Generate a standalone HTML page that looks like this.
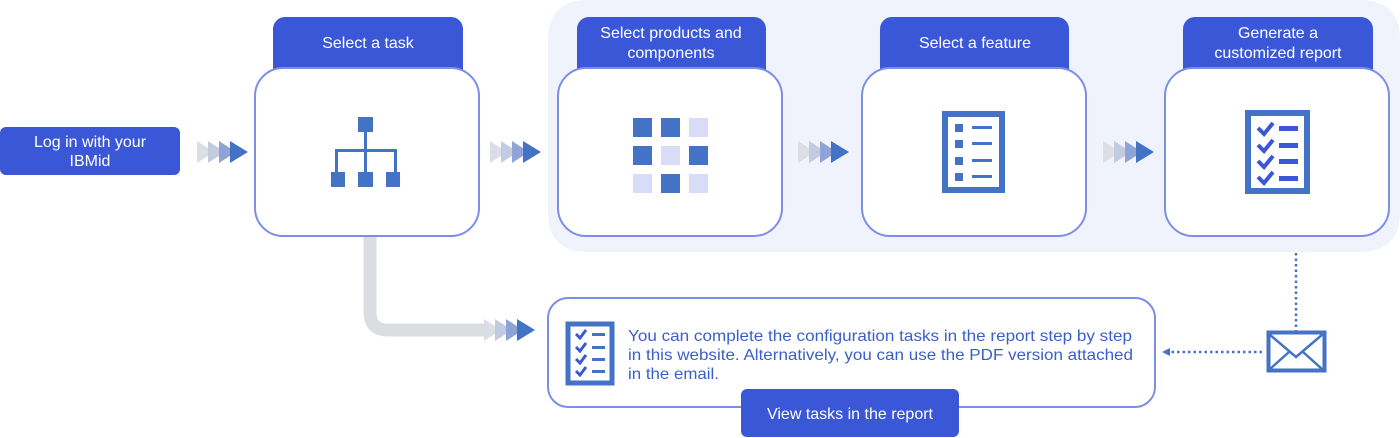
<!DOCTYPE html>
<html><head><meta charset="utf-8"><style>
html,body{margin:0;padding:0;background:#fff;}
svg{display:block;font-family:"Liberation Sans",sans-serif;}
</style></head><body>
<svg width="1400" height="438" viewBox="0 0 1400 438" xmlns="http://www.w3.org/2000/svg">
<defs>
<g id="chev">
<polygon points="0,-11 17,0 0,11" fill="#dcdee6"/>
<polygon points="11,-11 28,0 11,11" fill="#c3cbe0"/>
<polygon points="22,-11 39,0 22,11" fill="#8fa4d6"/>
<polygon points="33,-11 51,0 33,11" fill="#4472c4"/>
</g>
</defs>
<path d="M588,0 H1360 Q1400,0 1400,40 V212 Q1400,252 1360,252 H588 Q548,252 548,212 V40 Q548,0 588,0 Z" fill="#f0f3fc"/>

<rect x="0" y="127" width="180" height="48" rx="6" fill="#3a57d8"/>
<text x="90" y="147" fill="#fff" font-size="16" text-anchor="middle">Log in with your</text>
<text x="90" y="166" fill="#fff" font-size="16" text-anchor="middle">IBMid</text>

<rect x="273" y="17" width="190" height="70" rx="12" fill="#3a57d8"/>
<rect x="577" y="17" width="189" height="70" rx="12" fill="#3a57d8"/>
<rect x="880" y="17" width="189" height="70" rx="12" fill="#3a57d8"/>
<rect x="1183" y="17" width="190" height="70" rx="12" fill="#3a57d8"/>
<text x="368" y="48" fill="#fff" font-size="16" text-anchor="middle">Select a task</text>
<text x="671" y="38" fill="#fff" font-size="16" text-anchor="middle">Select products and</text>
<text x="671" y="58" fill="#fff" font-size="16" text-anchor="middle">components</text>
<text x="975" y="48" fill="#fff" font-size="16" text-anchor="middle">Select a feature</text>
<text x="1278" y="38" fill="#fff" font-size="16" text-anchor="middle">Generate a</text>
<text x="1278" y="58" fill="#fff" font-size="16" text-anchor="middle">customized report</text>

<path d="M370,237 V312 Q370,330 388,330 H490" fill="none" stroke="#dcdde0" stroke-width="13"/>

<g fill="#fff" stroke="#7b8fe6" stroke-width="2">
<rect x="255" y="68" width="224" height="168" rx="28"/>
<rect x="558" y="68" width="224" height="168" rx="28"/>
<rect x="862" y="68" width="224" height="168" rx="28"/>
<rect x="1165" y="68" width="224" height="168" rx="28"/>
<rect x="548" y="298" width="607" height="109" rx="20"/>
</g>

<use href="#chev" x="197" y="152"/>
<use href="#chev" x="490" y="152"/>
<use href="#chev" x="798" y="152"/>
<use href="#chev" x="1103" y="152"/>
<use href="#chev" x="484" y="330"/>

<g fill="#4472c4">
<rect x="358" y="117" width="15" height="15"/>
<rect x="364" y="132" width="3" height="40"/>
<rect x="335" y="149" width="62" height="3"/>
<rect x="335" y="149" width="3" height="23"/>
<rect x="394" y="149" width="3" height="23"/>
<rect x="331" y="172" width="14" height="15"/>
<rect x="358" y="172" width="15" height="15"/>
<rect x="386" y="172" width="14" height="15"/>
</g>

<g>
<rect x="633" y="118" width="19" height="19" fill="#4472c4"/>
<rect x="661" y="118" width="19" height="19" fill="#4472c4"/>
<rect x="689" y="118" width="19" height="19" fill="#d8dcf6"/>
<rect x="633" y="146" width="19" height="19" fill="#4472c4"/>
<rect x="661" y="146" width="19" height="19" fill="#d8dcf6"/>
<rect x="689" y="146" width="19" height="19" fill="#4472c4"/>
<rect x="633" y="174" width="19" height="19" fill="#d8dcf6"/>
<rect x="661" y="174" width="19" height="19" fill="#4472c4"/>
<rect x="689" y="174" width="19" height="19" fill="#d8dcf6"/>
</g>

<rect x="945" y="114" width="57" height="76" fill="none" stroke="#4472c4" stroke-width="6"/>
<g fill="#4472c4">
<rect x="955" y="124" width="8" height="8"/><rect x="972" y="126" width="20" height="3"/>
<rect x="955" y="140" width="8" height="8"/><rect x="972" y="142" width="20" height="3"/>
<rect x="955" y="157" width="8" height="8"/><rect x="972" y="159" width="20" height="3"/>
<rect x="955" y="173" width="8" height="8"/><rect x="972" y="175" width="20" height="3"/>
</g>

<rect x="1248" y="113" width="59" height="78" fill="none" stroke="#4472c4" stroke-width="6"/>
<g fill="none" stroke="#3a57d8" stroke-width="4">
<polyline points="1258,128 1264,134 1273,123"/>
<polyline points="1258,145 1264,151 1273,140"/>
<polyline points="1258,161 1264,167 1273,156"/>
<polyline points="1258,177 1264,183 1273,172"/>
</g>
<g fill="#3a57d8">
<rect x="1279" y="126" width="19" height="5"/>
<rect x="1279" y="143" width="19" height="5"/>
<rect x="1279" y="159" width="19" height="5"/>
<rect x="1279" y="176" width="19" height="5"/>
</g>

<line x1="1296" y1="253" x2="1296" y2="331" stroke="#4472c4" stroke-width="2.5" stroke-dasharray="2.5,3"/>
<line x1="1262" y1="352" x2="1170" y2="352" stroke="#4472c4" stroke-width="2.5" stroke-dasharray="2.5,3"/>
<polygon points="1162,352 1170,348 1170,356" fill="#4472c4"/>

<rect x="1268.5" y="332.5" width="56" height="38" fill="#fff" stroke="#4472c4" stroke-width="4"/>
<polyline points="1269,334 1296,357 1323,334" fill="none" stroke="#4472c4" stroke-width="2.5"/>
<line x1="1270" y1="369" x2="1289" y2="352" stroke="#4472c4" stroke-width="2.5"/>
<line x1="1322" y1="369" x2="1303" y2="352" stroke="#4472c4" stroke-width="2.5"/>

<rect x="568" y="324" width="44" height="59" fill="none" stroke="#4472c4" stroke-width="5"/>
<g fill="none" stroke="#3a57d8" stroke-width="3">
<polyline points="576,334 580,338 586,330"/>
<polyline points="576,347 580,351 586,343"/>
<polyline points="576,359 580,363 586,355"/>
<polyline points="576,371 580,375 586,367"/>
</g>
<g fill="#4472c4">
<rect x="592" y="333" width="13" height="3"/>
<rect x="592" y="346" width="13" height="3"/>
<rect x="592" y="358" width="13" height="3"/>
<rect x="592" y="370" width="13" height="3"/>
</g>

<g fill="#3a5fc8" font-size="16">
<text x="628" y="341" textLength="504" lengthAdjust="spacingAndGlyphs">You can complete the configuration tasks in the report step by step</text>
<text x="628" y="360" textLength="505" lengthAdjust="spacingAndGlyphs">in this website. Alternatively, you can use the PDF version attached</text>
<text x="628" y="379" textLength="91" lengthAdjust="spacingAndGlyphs">in the email.</text>
</g>

<rect x="741" y="389" width="218" height="48" rx="6" fill="#3a57d8"/>
<text x="850" y="419" fill="#fff" font-size="16" text-anchor="middle">View tasks in the report</text>
</svg>
</body></html>
